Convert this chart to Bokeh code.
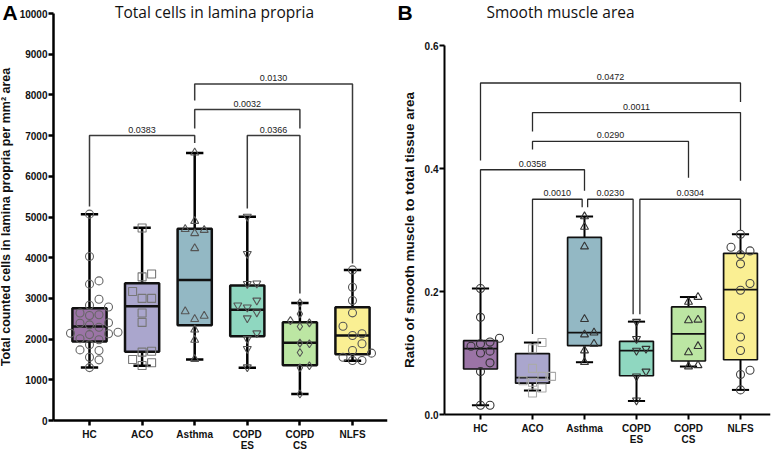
import math
from bokeh.plotting import figure
from bokeh.layouts import row
from bokeh.models import FixedTicker, Range1d, Label, NumeralTickFormatter
from bokeh.core.properties import value
from bokeh.embed import file_html
from bokeh.resources import INLINE

# ---------------- data ----------------
groups = ["HC", "ACO", "Asthma", "COPD\nES", "COPD\nCS", "NLFS"]
box_colors = ["#9b74a6", "#aaa6cd", "#93b8c4", "#8fd7c0", "#bce6a3", "#faef93"]

# Panel A: total cells in lamina propria (cells per mm2)
cells_hc = [5070, 4030, 3430, 3350, 2980, 2830, 2790, 2640, 2600, 2580, 2400, 2390, 2350,
            2290, 2170, 2145, 2130, 2110, 2010, 1985, 1860, 1735, 1720, 1555, 1490, 1300]
cells_aco = [4730, 3600, 3530, 3170, 3000, 3000, 2640, 2410, 1700, 1680, 1500, 1420, 1350]
cells_asthma = [6580, 4900, 4700, 4680, 4600, 4230, 2680, 2570, 2490, 2230, 1980, 1510]
cells_copd_es = [5010, 4095, 3370, 3360, 2950, 2830, 2780, 2660, 2515, 2145, 2005, 1760, 1310]
cells_copd_cs = [2890, 2620, 2455, 2400, 2310, 1900, 1885, 1670, 1345, 1295, 650]
cells_nlfs = [3700, 3275, 2950, 2645, 2315, 2130, 2090, 1885, 1720, 1655, 1555, 1475, 1475]

cells_lo = [1300, 1345, 1500, 1295, 650, 1465]
cells_q1 = [1940, 1690, 2340, 2070, 1360, 1630]
cells_med = [2310, 2810, 3450, 2720, 1910, 2090]
cells_q3 = [2760, 3375, 4710, 3315, 2415, 2785]
cells_hi = [5070, 4735, 6575, 5005, 2890, 3695]

cells_br_x1 = [1, 4, 3, 3]
cells_br_x2 = [3, 5, 5, 6]
cells_br_top = [7000, 7000, 7640, 8270]
cells_br_lo1 = [5260, 5210, 7175, 7860]
cells_br_lo2 = [6820, 3120, 7175, 3860]
cells_br_p = ["0.0383", "0.0366", "0.0032", "0.0130"]

# Panel B: smooth muscle area ratio
sm_hc = [0.205, 0.158, 0.124, 0.118, 0.115, 0.111, 0.103, 0.100, 0.084, 0.070, 0.015, 0.015]
sm_aco = [0.117, 0.107, 0.075, 0.062, 0.062, 0.055, 0.0525, 0.043, 0.035]
sm_asthma = [0.322, 0.305, 0.273, 0.155, 0.133, 0.130, 0.115, 0.104, 0.085]
sm_copd_es = [0.151, 0.123, 0.107, 0.104, 0.070, 0.062, 0.023]
sm_copd_cs = [0.191, 0.183, 0.154, 0.153, 0.111, 0.101, 0.080, 0.078]
sm_nlfs = [0.293, 0.272, 0.266, 0.260, 0.245, 0.213, 0.202, 0.159, 0.126, 0.104, 0.072, 0.065, 0.040]

sm_lo = [0.015, 0.039, 0.085, 0.022, 0.078, 0.040]
sm_q1 = [0.074, 0.051, 0.112, 0.063, 0.087, 0.089]
sm_med = [0.107, 0.060, 0.133, 0.104, 0.131, 0.203]
sm_q3 = [0.120, 0.099, 0.288, 0.119, 0.175, 0.262]
sm_hi = [0.205, 0.117, 0.322, 0.151, 0.191, 0.293]

sm_br_x1 = [1, 2, 2, 1, 2, 3, 4]
sm_br_x2 = [6, 6, 5, 3, 3, 4, 6]
sm_br_top = [0.539, 0.491, 0.444, 0.398, 0.350, 0.350, 0.350]
sm_br_lo1 = [0.413, 0.460, 0.431, 0.207, 0.131, 0.337, 0.163]
sm_br_lo2 = [0.508, 0.380, 0.385, 0.364, 0.337, 0.163, 0.300]
sm_br_p = ["0.0472", "0.0011", "0.0290", "0.0358", "0.0010", "0.0230", "0.0304"]

# ---------------- styling / layout ----------------
H = 450
AXFONT = "Liberation Sans"
xpos = [1, 2, 3, 4, 5, 6]


def swarm(vals, px_per_unit, px_per_cat, d):
    placed = []
    offs = [0.0] * len(vals)
    for i in sorted(range(len(vals)), key=lambda j: vals[j]):
        ypx = vals[i] * px_per_unit
        cands = [0.0]
        for m in range(1, 8):
            cands += [m * d, -m * d]
        chosen = cands[-1]
        for c in cands:
            if all((c - a) ** 2 + (ypx - b) ** 2 >= (0.97 * d) ** 2 for a, b in placed):
                chosen = c
                break
        placed.append((chosen, ypx))
        offs[i] = chosen / px_per_cat
    return offs


def make_panel(width, border_right, xr, yr, yaxis_x, xaxis_end, ybounds, yticks,
               lw, box_lw, point_lists, markers, mcolors, lo, q1, med, q3, hi,
               px_per_unit, px_per_cat, br_x1, br_x2, br_top, br_lo1, br_lo2, br_p,
               br_off1, br_off2, br_color, br_lw, ylabel, ylabel_standoff, ylabel_size):
    p = figure(width=width, height=H, x_range=Range1d(*xr), y_range=Range1d(*yr),
               output_backend="svg", toolbar_location=None,
               min_border_left=0, min_border_right=border_right,
               min_border_top=0, min_border_bottom=0)
    p.grid.visible = False
    p.outline_line_color = None
    p.background_fill_color = "white"
    p.border_fill_color = "white"

    # axes (placed inside the frame at fixed locations)
    p.xaxis.ticker = FixedTicker(ticks=xpos)
    p.xaxis.major_label_overrides = {x: g for x, g in zip(xpos, groups)}
    p.xaxis.bounds = (yaxis_x, xaxis_end)
    p.xaxis.fixed_location = 0
    p.yaxis.ticker = FixedTicker(ticks=yticks)
    p.yaxis.bounds = ybounds
    p.yaxis.fixed_location = yaxis_x
    for ax in (p.xaxis, p.yaxis):
        ax.axis_line_width = lw
        ax.axis_line_color = "black"
        ax.major_tick_line_width = lw
        ax.major_tick_line_color = "black"
        ax.major_tick_out = 5
        ax.major_tick_in = 0
        ax.minor_tick_line_color = None
        ax.major_label_text_font = AXFONT
        ax.major_label_text_font_style = "bold"
        ax.major_label_text_font_size = "10px"
        ax.major_label_text_color = "#111111"
    p.yaxis.major_label_standoff = 1
    p.xaxis.major_label_standoff = 3
    p.xaxis.major_label_text_line_height = 1.0
    p.yaxis.axis_label = ylabel
    p.yaxis.axis_label_text_font = AXFONT
    p.yaxis.axis_label_text_font_style = "bold"
    p.yaxis.axis_label_text_font_size = ylabel_size
    p.yaxis.axis_label_text_color = "#111111"
    p.yaxis.axis_label_standoff = ylabel_standoff

    hw = 0.325
    cw = 0.165
    # whiskers
    p.segment(x0=xpos, y0=q3, x1=xpos, y1=hi, line_color="black", line_width=lw)
    p.segment(x0=xpos, y0=q1, x1=xpos, y1=lo, line_color="black", line_width=lw)
    p.segment(x0=[x - cw for x in xpos], y0=hi, x1=[x + cw for x in xpos], y1=hi,
              line_color="black", line_width=lw)
    p.segment(x0=[x - cw for x in xpos], y0=lo, x1=[x + cw for x in xpos], y1=lo,
              line_color="black", line_width=lw)
    # boxes
    p.quad(left=[x - hw for x in xpos], right=[x + hw for x in xpos], bottom=q1, top=q3,
           fill_color=box_colors, line_color="#111111", line_width=box_lw)
    p.segment(x0=[x - hw for x in xpos], y0=med, x1=[x + hw for x in xpos], y1=med,
              line_color="#111111", line_width=box_lw)

    # points
    for x, vals, mk, mc in zip(xpos, point_lists, markers, mcolors):
        offs = swarm(vals, px_per_unit, px_per_cat, 9.5)
        p.scatter(x=[x + o for o in offs], y=vals, marker=mk, size=8,
                  fill_color=None, line_color=mc, line_width=1.1)

    # significance brackets
    xs, ys, tx, ty = [], [], [], []
    for a, b, t, l1, l2, o1, o2 in zip(br_x1, br_x2, br_top, br_lo1, br_lo2, br_off1, br_off2):
        xa, xb = a + o1, b + o2
        xs.append([xa, xa, xb, xb])
        ys.append([l1, t, t, l2])
        tx.append((xa + xb) / 2)
        ty.append(t)
    p.multi_line(xs=xs, ys=ys, line_color=br_color, line_width=br_lw)
    p.text(x=tx, y=ty, text=br_p, text_font=value(AXFONT), text_font_size="9px",
           text_color="#222222", text_align="center", text_baseline="bottom", y_offset=-3)
    return p


# ---------- Panel A (figure spans page x 0..390; y=0 at page 420, 10000 at page 13) ----------
kA = 52.6
A_x0 = 1 - 89 / kA            # data x at page x = 0
def xA_at(page_x):
    return A_x0 + page_x / kA
pxA = 407 / 10000              # px per cell/mm2
yA = (-(H - 420) / pxA, 420 / pxA)
pA = make_panel(390, 3, (A_x0, xA_at(387)), yA, xA_at(53), xA_at(387),
                (0, 10000), list(range(0, 10001, 1000)), 2.5, 2.5,
                [cells_hc, cells_aco, cells_asthma, cells_copd_es, cells_copd_cs, cells_nlfs],
                ["circle", "square", "triangle", "inverted_triangle", "diamond", "circle"],
                ["#666666", "#777777", "#555555", "#555555", "#555555", "#555555"],
                cells_lo, cells_q1, cells_med, cells_q3, cells_hi, pxA, kA,
                cells_br_x1, cells_br_x2, cells_br_top, cells_br_lo1, cells_br_lo2, cells_br_p,
                [0, 0, 0, 0], [0, 0, 0, 0], "#3a3a3a", 1.5,
                "Total counted cells in lamina propria per mm² area", 4, "12.5px")

# ---------- Panel B (figure spans page x 390..777; y=0 at page 414, 0.6 at page 45) ----------
kB = 52.0
B_x0 = 1 - (480 - 390) / kB   # data x at page x = 390
def xB_at(page_x):
    return B_x0 + (page_x - 390) / kB
pxB = 369 / 0.6
yB = (-(H - 414) / pxB, 414 / pxB)
pB = make_panel(387, 7, (B_x0, xB_at(770)), yB, xB_at(444), xB_at(770),
                (0, 0.6), [0, 0.2, 0.4, 0.6], 2.0, 1.7,
                [sm_hc, sm_aco, sm_asthma, sm_copd_es, sm_copd_cs, sm_nlfs],
                ["circle", "square", "triangle", "inverted_triangle", "triangle", "circle"],
                ["#333333", "#aaaaaa", "#333333", "#333333", "#333333", "#444444"],
                sm_lo, sm_q1, sm_med, sm_q3, sm_hi, pxB, kB,
                sm_br_x1, sm_br_x2, sm_br_top, sm_br_lo1, sm_br_lo2, sm_br_p,
                [0, 0, 0, 0, 0, 0.06, 0.065], [0, 0, 0, 0, -0.045, -0.065, 0], "#2a2a2a", 1.3,
                "Ratio of smooth muscle to total tissue area", 5, "13.5px")
pB.yaxis.formatter = NumeralTickFormatter(format="0.0")

# titles and panel letters
pA.add_layout(Label(x=xA_at(214), y=yA[1], text="Total cells in lamina propria",
                    text_font="Open Sans", text_font_size="15.5px", text_color="#111111",
                    text_align="center", text_baseline="top"))
pA.add_layout(Label(x=xA_at(2), y=yA[1], text="A", text_font=AXFONT, text_font_style="bold",
                    text_font_size="21px", text_color="black", text_align="left",
                    text_baseline="top"))
pB.add_layout(Label(x=xB_at(560), y=yB[1], text="Smooth muscle area",
                    text_font="Open Sans", text_font_size="15.5px", text_color="#111111",
                    text_align="center", text_baseline="top"))
pB.add_layout(Label(x=xB_at(397), y=yB[1], text="B", text_font=AXFONT, text_font_style="bold",
                    text_font_size="21px", text_color="black", text_align="left",
                    text_baseline="top"))

layout = row(pA, pB)
open("out.html", "w").write(file_html(layout, INLINE))
